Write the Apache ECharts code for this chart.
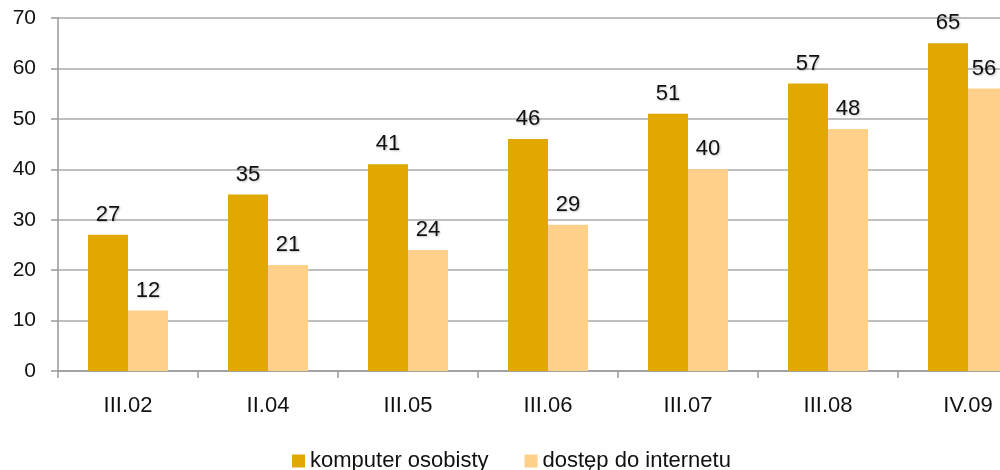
<!DOCTYPE html>
<html>
<head>
<meta charset="utf-8">
<script src="https://cdn.jsdelivr.net/npm/echarts@6/dist/echarts.min.js"></script>
<style>
  html, body { margin: 0; padding: 0; background: #fff; overflow: hidden; }
  #main { width: 1000px; height: 470px; }
</style>
</head>
<body>
<div id="main"></div>
<script>
var categories = ['III.02', 'II.04', 'III.05', 'III.06', 'III.07', 'III.08', 'IV.09'];
var komputer = [27, 35, 41, 46, 51, 57, 65];
var internet = [12, 21, 24, 29, 40, 48, 56];
var seriesNames = ['komputer osobisty', 'dostęp do internetu'];

var mychart = echarts.init(document.getElementById('main'));

var font = 'Liberation Sans, Arial, sans-serif';

var labelStyle = {
    show: true,
    position: 'top',
    distance: 9,
    color: '#111',
    fontSize: 22,
    fontFamily: font,
    textShadowColor: 'rgba(0,0,0,0.25)',
    textShadowBlur: 2,
    textShadowOffsetX: 1,
    textShadowOffsetY: 1
};

// last label of the second series sits at the edge of the picture, nudge it in a bit
var internetData = internet.map(function (v, i) {
    if (i === internet.length - 1) {
        return { value: v, label: { offset: [-4, 0] } };
    }
    return v;
});

var option = {
    animation: false,
    grid: {
        left: 58,
        width: 980,
        top: 18,
        bottom: 99,
        outerBoundsMode: 'none',
        containLabel: false
    },
    legend: {
        top: 450,
        left: 292,
        padding: 0,
        itemWidth: 13,
        itemHeight: 13,
        itemGap: 36,
        icon: 'rect',
        textStyle: {
            color: '#111',
            fontSize: 22,
            fontFamily: font
        },
        data: seriesNames
    },
    xAxis: {
        type: 'category',
        data: categories,
        axisLine: { lineStyle: { color: '#999', width: 1.5 } },
        axisTick: { show: true, length: 7, lineStyle: { color: '#999', width: 1.5 } },
        axisLabel: {
            margin: 24,
            color: '#111',
            fontSize: 22,
            fontFamily: font
        }
    },
    yAxis: {
        type: 'value',
        min: 0,
        max: 70,
        interval: 10,
        axisLine: { show: true, lineStyle: { color: '#999', width: 1.5 } },
        axisTick: { show: true, length: 7, lineStyle: { color: '#999', width: 1.5 } },
        splitLine: { lineStyle: { color: '#aaa', width: 1.5 } },
        axisLabel: {
            margin: 22,
            color: '#111',
            fontSize: 21,
            fontFamily: font
        }
    },
    series: [
        {
            name: seriesNames[0],
            type: 'bar',
            data: komputer,
            barWidth: 40,
            barGap: '0%',
            itemStyle: { color: '#E0A800' },
            label: labelStyle
        },
        {
            name: seriesNames[1],
            type: 'bar',
            data: internetData,
            barWidth: 40,
            itemStyle: { color: '#FFD08A' },
            label: labelStyle
        }
    ]
};

mychart.setOption(option);
</script>
</body>
</html>
